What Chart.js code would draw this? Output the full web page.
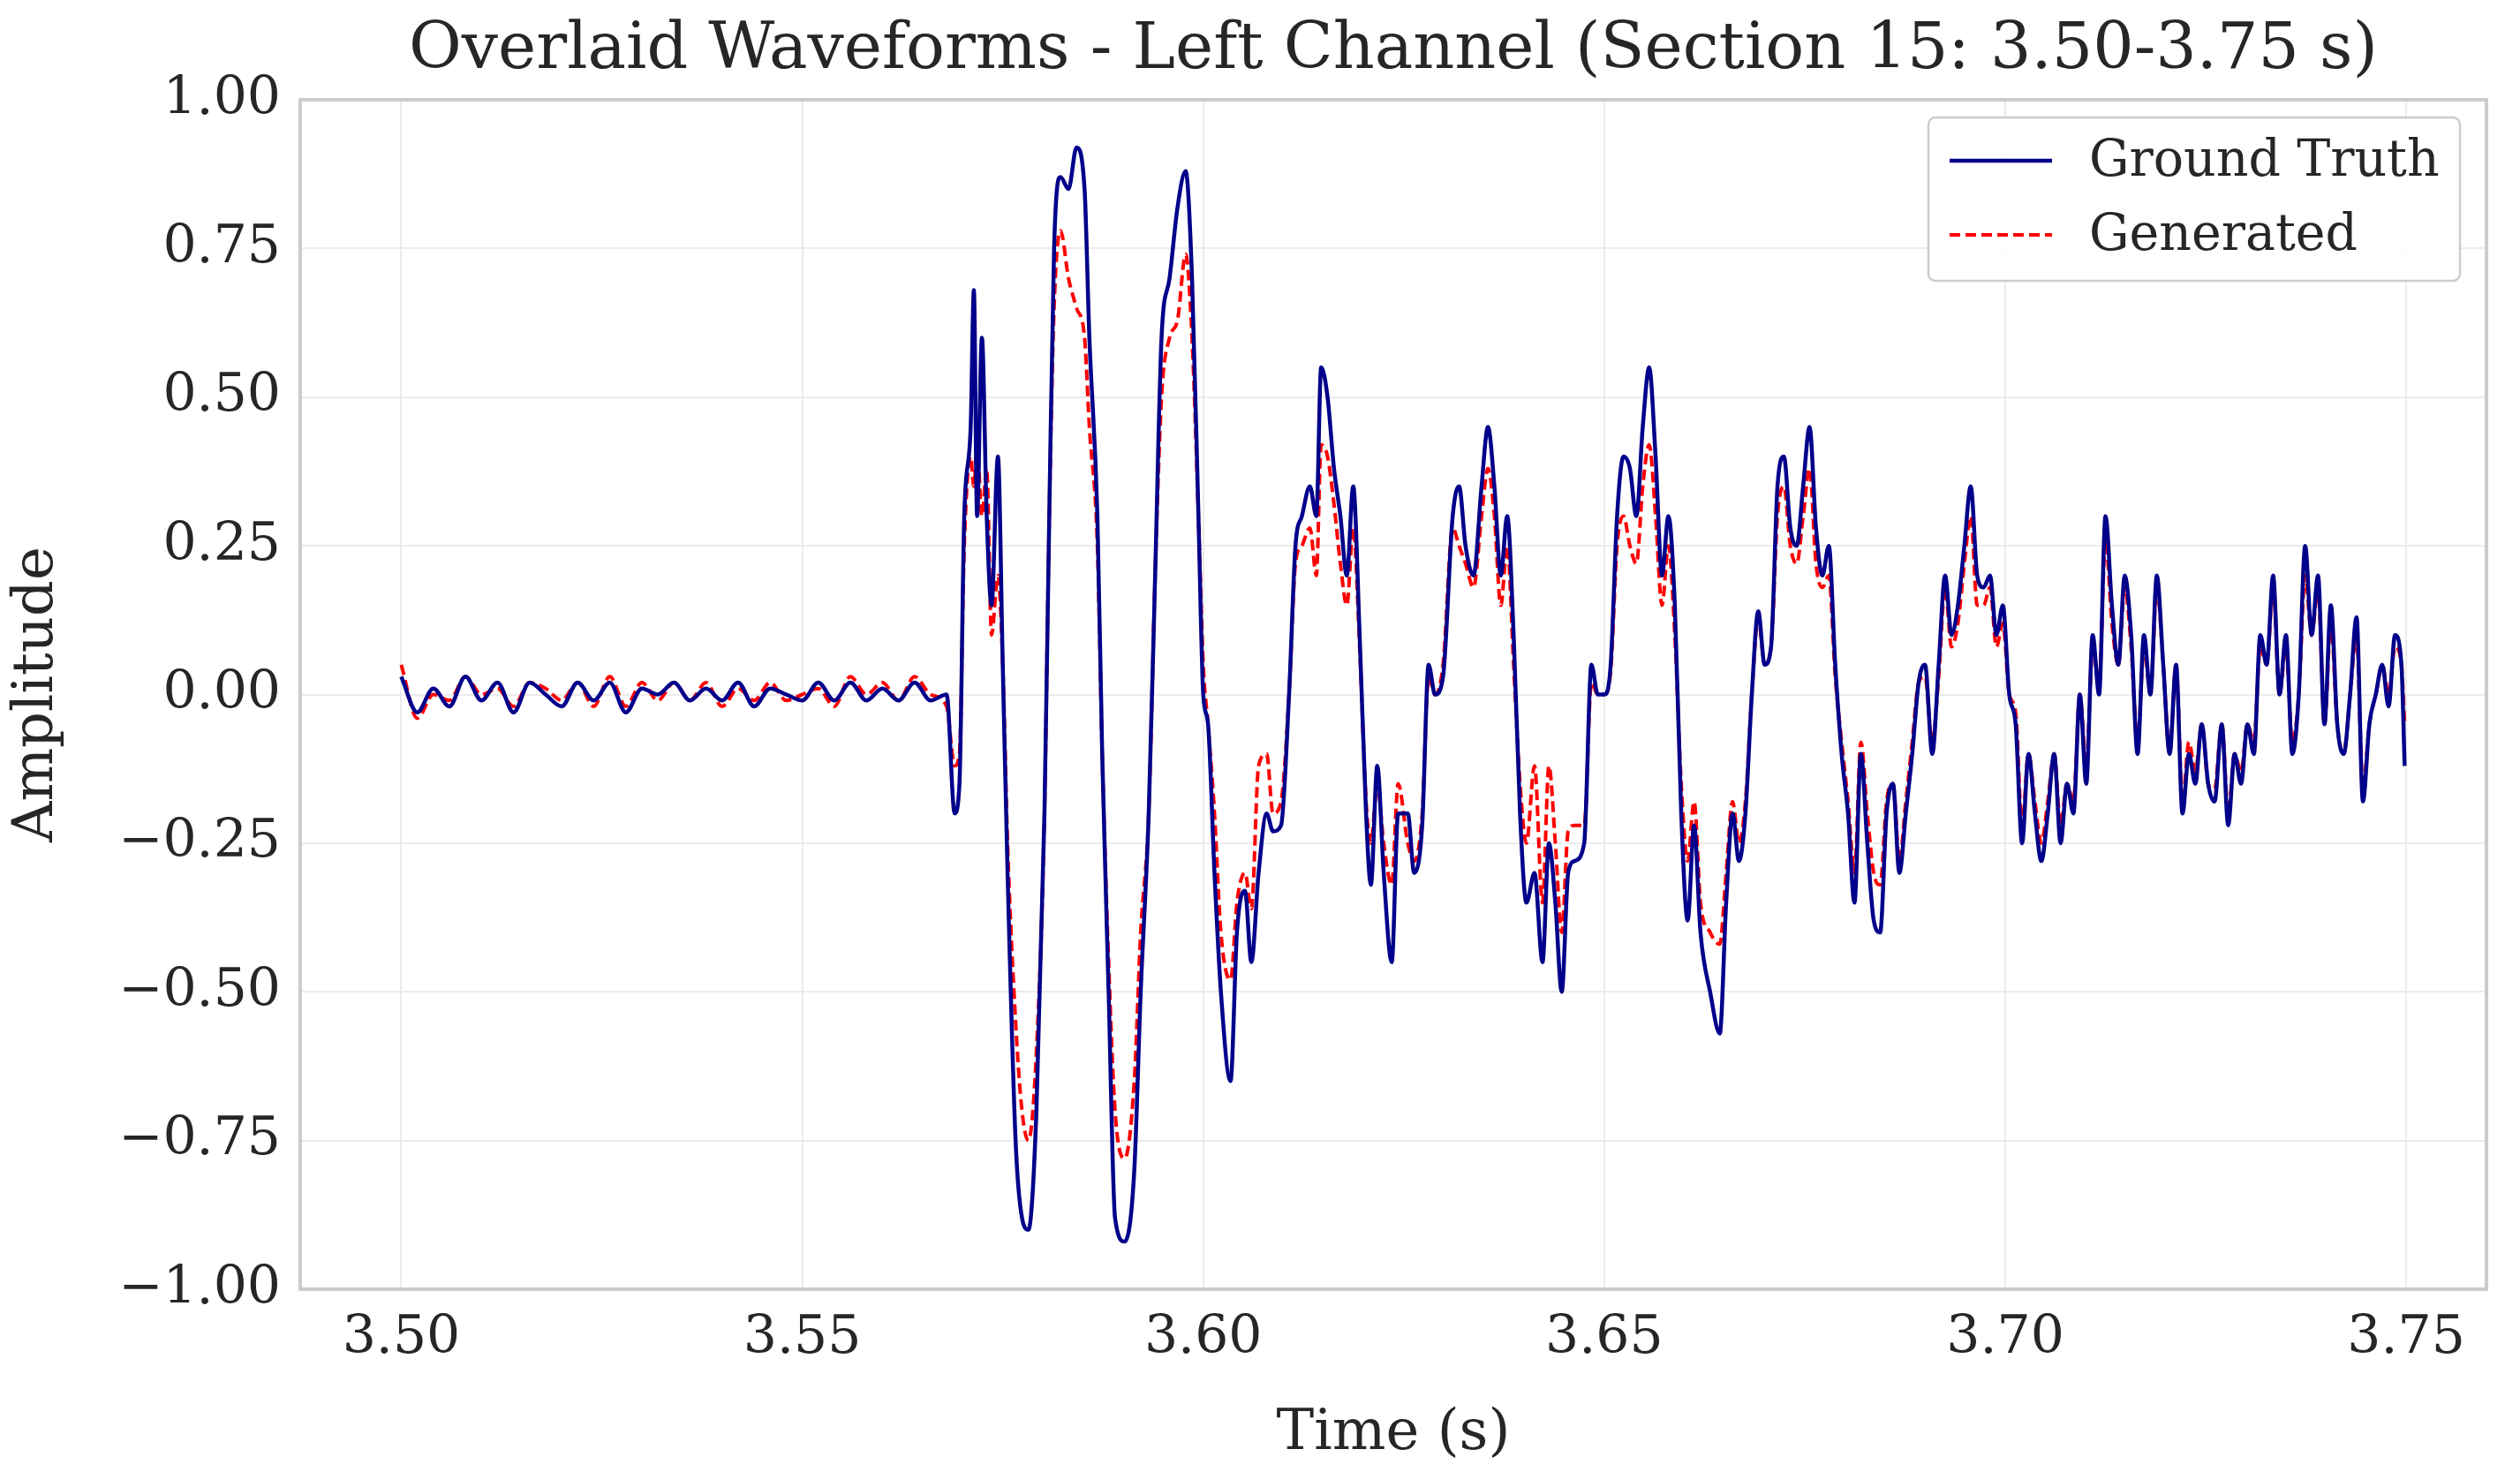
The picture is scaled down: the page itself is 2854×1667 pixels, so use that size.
<!DOCTYPE html>
<html><head><meta charset="utf-8">
<script src="https://cdn.jsdelivr.net/npm/chart.js@4/dist/chart.umd.min.js"></script>
<style>html,body{margin:0;padding:0;background:#fff}#c{display:block}</style>
</head><body>
<canvas id="c" width="2854" height="1667"></canvas>
<script>
const times=[3.500,3.502,3.504,3.506,3.508,3.510,3.512,3.514,3.516,3.518,3.520,3.522,3.524,3.526,3.528,3.530,3.532,3.534,3.536,3.538,3.540,3.542,3.544,3.546,3.548,3.550,3.552,3.554,3.556,3.558,3.560,3.562,3.564,3.566,3.568,
3.5690,3.5696,3.5702,3.5710,3.5714,3.5718,3.5724,3.5730,3.5736,3.5744,3.5750,3.5756,3.5766,3.5774,3.5782,3.5792,3.5802,3.5808,3.5814,3.5822,3.5832,3.5842,3.5852,3.5858,3.5868,3.5874,3.5882,3.5890,3.5902,3.5914,3.5922,3.5932,3.5940,3.5948,3.5958,3.5968,3.5978,3.5986,3.5994,3.6000,3.6006,3.6014,3.6022,3.6034,3.6042,3.6052,3.6060,3.6069,3.6079,3.6087,3.6097,3.6107,3.6115,3.6123,3.6133,3.6141,3.6147,3.6155,3.6163,3.6171,3.6179,3.6187,3.6195,3.6203,3.6209,3.6217,3.6225,3.6235,3.6243,3.6255,3.6263,3.6273,3.6281,3.6289,3.6299,3.6311,3.6319,3.6327,3.6337,3.6347,3.6355,3.6363,3.6371,3.6379,3.6387,3.6395,3.6403,3.6413,3.6423,3.6431,3.6439,3.6447,3.6455,3.6463,3.6475,3.6484,3.6492,3.6500,3.6508,3.6516,3.6524,3.6532,3.6540,3.6548,3.6556,3.6564,3.6572,3.6580,3.6588,3.6596,3.6604,3.6612,3.6620,3.6632,3.6644,3.6652,3.6660,3.6668,3.6676,3.6684,3.6692,3.6700,3.6708,3.6716,3.6724,3.6732,3.6740,3.6748,3.6756,3.6764,3.6772,3.6780,3.6788,3.6796,3.6804,3.6812,3.6820,3.6828,3.6836,3.6844,3.6852,3.6860,3.6868,3.6876,3.6884,3.6892,3.6900,3.6909,3.6917,3.6925,3.6933,3.6941,3.6949,3.6957,3.6965,3.6973,3.6981,3.6989,3.6997,3.7005,3.7013,3.7021,3.7029,3.7037,3.7045,3.7053,3.7061,3.7069,3.7077,3.7085,3.7093,3.7101,3.7109,3.7117,3.7125,3.7133,3.7141,3.7149,3.7157,3.7165,3.7173,3.7181,3.7189,3.7197,3.7205,3.7213,3.7221,3.7229,3.7237,3.7245,3.7253,3.7261,3.7270,3.7278,3.7286,3.7294,3.7302,3.7310,3.7318,3.7326,3.7334,3.7342,3.7350,3.7358,3.7366,3.7374,3.7382,3.7390,3.7398,3.7406,3.7414,3.7422,3.7430,3.7438,3.7446,3.7454,3.7462,3.7470,3.7478,3.7486,3.7494,3.7498];
const groundTruth=[0.03,-0.03,0.01,-0.02,0.03,-0.01,0.02,-0.03,0.02,0.0,-0.02,0.02,-0.01,0.02,-0.03,0.01,0.0,0.02,-0.01,0.01,-0.01,0.02,-0.02,0.01,0.0,-0.01,0.02,-0.01,0.02,-0.01,0.01,-0.01,0.02,-0.01,0.0,
-0.20,-0.15,0.30,0.45,0.68,0.30,0.60,0.30,0.15,0.40,0.05,-0.30,-0.75,-0.88,-0.90,-0.70,-0.20,0.30,0.75,0.87,0.85,0.92,0.85,0.60,0.30,-0.10,-0.50,-0.88,-0.92,-0.80,-0.50,-0.20,0.20,0.60,0.70,0.82,0.88,0.70,0.30,0.00,-0.05,-0.30,-0.50,-0.65,-0.40,-0.33,-0.45,-0.30,-0.20,-0.23,-0.22,0.00,0.25,0.30,0.35,0.30,0.55,0.50,0.38,0.30,0.20,0.35,0.10,-0.20,-0.32,-0.12,-0.30,-0.45,-0.20,-0.20,-0.30,-0.22,0.05,0.00,0.03,0.30,0.35,0.25,0.20,0.35,0.45,0.35,0.20,0.30,0.10,-0.20,-0.35,-0.30,-0.45,-0.25,-0.35,-0.50,-0.30,-0.28,-0.25,0.05,0.00,0.00,0.05,0.30,0.40,0.38,0.30,0.45,0.55,0.40,0.20,0.30,0.15,-0.20,-0.38,-0.22,-0.40,-0.50,-0.57,-0.35,-0.20,-0.28,-0.20,0.00,0.14,0.05,0.08,0.35,0.40,0.28,0.25,0.35,0.45,0.28,0.20,0.25,0.05,-0.10,-0.20,-0.35,-0.10,-0.25,-0.38,-0.40,-0.20,-0.15,-0.30,-0.20,-0.10,0.02,0.05,-0.10,0.05,0.20,0.10,0.15,0.25,0.35,0.20,0.18,0.20,0.10,0.15,0.00,-0.05,-0.25,-0.10,-0.20,-0.28,-0.20,-0.10,-0.25,-0.15,-0.20,0.00,-0.15,0.10,0.00,0.30,0.15,0.05,0.20,0.10,-0.10,0.10,0.00,0.20,0.05,-0.10,0.05,-0.20,-0.10,-0.15,-0.05,-0.15,-0.18,-0.05,-0.22,-0.10,-0.15,-0.05,-0.10,0.10,0.05,0.20,0.00,0.10,-0.10,0.00,0.25,0.10,0.20,-0.05,0.15,-0.05,-0.10,0.00,0.13,-0.18,-0.05,0.00,0.05,-0.02,0.10,0.05,-0.12];
const generated=[0.05,-0.04,0.0,-0.01,0.03,0.0,0.01,-0.02,0.02,0.01,-0.01,0.02,-0.02,0.03,-0.02,0.02,-0.01,0.02,-0.01,0.02,-0.02,0.01,-0.01,0.02,-0.01,0.0,0.01,-0.02,0.03,0.0,0.02,-0.01,0.03,0.0,-0.02,
-0.12,-0.10,0.25,0.40,0.35,0.42,0.30,0.38,0.10,0.20,0.05,-0.25,-0.55,-0.70,-0.75,-0.60,-0.20,0.30,0.65,0.78,0.70,0.65,0.60,0.45,0.25,-0.10,-0.45,-0.70,-0.78,-0.65,-0.40,-0.20,0.20,0.50,0.60,0.63,0.74,0.60,0.30,0.05,-0.05,-0.20,-0.40,-0.48,-0.35,-0.30,-0.36,-0.12,-0.10,-0.20,-0.18,0.00,0.22,0.25,0.28,0.20,0.42,0.40,0.32,0.22,0.15,0.28,0.08,-0.18,-0.25,-0.15,-0.25,-0.32,-0.15,-0.25,-0.28,-0.20,0.03,0.00,0.05,0.28,0.25,0.22,0.18,0.30,0.38,0.30,0.15,0.25,0.05,-0.15,-0.25,-0.12,-0.35,-0.12,-0.25,-0.40,-0.23,-0.22,-0.22,0.02,0.00,0.00,0.04,0.25,0.30,0.25,0.22,0.35,0.42,0.30,0.15,0.25,0.10,-0.15,-0.28,-0.18,-0.35,-0.40,-0.42,-0.30,-0.18,-0.25,-0.18,0.00,0.13,0.05,0.08,0.30,0.35,0.25,0.22,0.30,0.38,0.22,0.18,0.20,0.03,-0.08,-0.18,-0.30,-0.08,-0.20,-0.30,-0.32,-0.18,-0.15,-0.28,-0.18,-0.08,0.02,0.03,-0.08,0.03,0.18,0.08,0.12,0.22,0.30,0.15,0.15,0.18,0.08,0.12,0.00,-0.03,-0.22,-0.10,-0.18,-0.25,-0.18,-0.10,-0.22,-0.15,-0.18,0.00,-0.12,0.08,0.02,0.26,0.12,0.05,0.18,0.08,-0.08,0.08,0.00,0.18,0.05,-0.10,0.05,-0.18,-0.08,-0.13,-0.05,-0.15,-0.16,-0.05,-0.20,-0.10,-0.13,-0.05,-0.08,0.08,0.05,0.18,0.00,0.08,-0.08,0.00,0.20,0.10,0.18,-0.05,0.12,-0.05,-0.10,0.00,0.10,-0.16,-0.05,0.00,0.05,0.00,0.08,0.05,-0.05];
const xTicks=[3.50,3.55,3.60,3.65,3.70,3.75];
const yTicks=[-1.00,-0.75,-0.50,-0.25,0.00,0.25,0.50,0.75,1.00];
const seriesNames=['Ground Truth','Generated'];

const FONT='"DejaVu Serif", serif';
const fmt=(v,d)=>{const s=Math.abs(v).toFixed(d);return (v<-1e-9?'\u2212':'')+s;};

const frame={id:'frame',
  afterDatasetsDraw(c){const a=c.chartArea,x=c.ctx;x.save();x.strokeStyle='#cccccc';x.lineWidth=4;
    x.strokeRect(a.left,a.top,a.right-a.left,a.bottom-a.top);
    const bx=2184,by=133,bw=602,bh=185;x.fillStyle='rgba(255,255,255,0.85)';x.strokeStyle='#cccccc';x.lineWidth=2.5;
    x.beginPath();x.roundRect(bx,by,bw,bh,8);x.fill();x.stroke();
    const rows=[182,266];
    c.data.datasets.forEach((d,i)=>{x.strokeStyle=d.borderColor;x.lineWidth=d.borderWidth;x.setLineDash(d.borderDash||[]);
      x.beginPath();x.moveTo(2208,rows[i]);x.lineTo(2324,rows[i]);x.stroke();x.setLineDash([]);
      x.fillStyle='#262626';x.font='57px '+FONT;x.textBaseline='middle';x.textAlign='left';x.fillText(d.label,2366,rows[i]+2);});
    x.fillStyle='#262626';x.font='73px '+FONT;x.textAlign='center';x.textBaseline='middle';
    x.fillText('Overlaid Waveforms - Left Channel (Section 15: 3.50-3.75 s)',(a.left+a.right)/2,58);
    x.restore();}};

new Chart(document.getElementById('c'),{
  type:'line',
  data:{datasets:[
    {label:seriesNames[0],data:times.map((t,i)=>({x:t,y:groundTruth[i]})),borderColor:'#00008b',borderWidth:4.5,pointRadius:0,cubicInterpolationMode:'monotone'},
    {label:seriesNames[1],data:times.map((t,i)=>({x:t,y:generated[i]})),borderColor:'#ff0000',borderWidth:4,borderDash:[12,6],pointRadius:0,cubicInterpolationMode:'monotone'}
  ]},
  options:{responsive:false,animation:false,devicePixelRatio:1,
    layout:{padding:{top:113,right:38,left:0,bottom:0}},
    plugins:{legend:{display:false},title:{display:false},tooltip:{enabled:false}},
    scales:{
      x:{type:'linear',min:3.4874,max:3.7600,
        afterBuildTicks(s){s.ticks=xTicks.map(v=>({value:v}));},
        afterFit(s){s.height=207;},
        grid:{color:'#ebebeb',lineWidth:2,drawTicks:false},
        border:{display:false},
        ticks:{color:'#262626',font:{family:FONT,size:60},padding:20,callback:v=>fmt(v,2),maxRotation:0},
        title:{display:true,text:'Time (s)',color:'#262626',font:{family:FONT,size:64},padding:{top:0}}},
      y:{type:'linear',min:-1,max:1,
        afterBuildTicks(s){s.ticks=yTicks.map(v=>({value:v}));},
        afterFit(s){s.width=340;},
        grid:{color:'#ebebeb',lineWidth:2,drawTicks:false},
        border:{display:false},
        ticks:{color:'#262626',font:{family:FONT,size:60},padding:22,callback:v=>fmt(v,2)},
        title:{display:true,text:'Amplitude',color:'#262626',font:{family:FONT,size:64},padding:{bottom:0}}}
    }},
  plugins:[frame]
});
</script></body></html>
